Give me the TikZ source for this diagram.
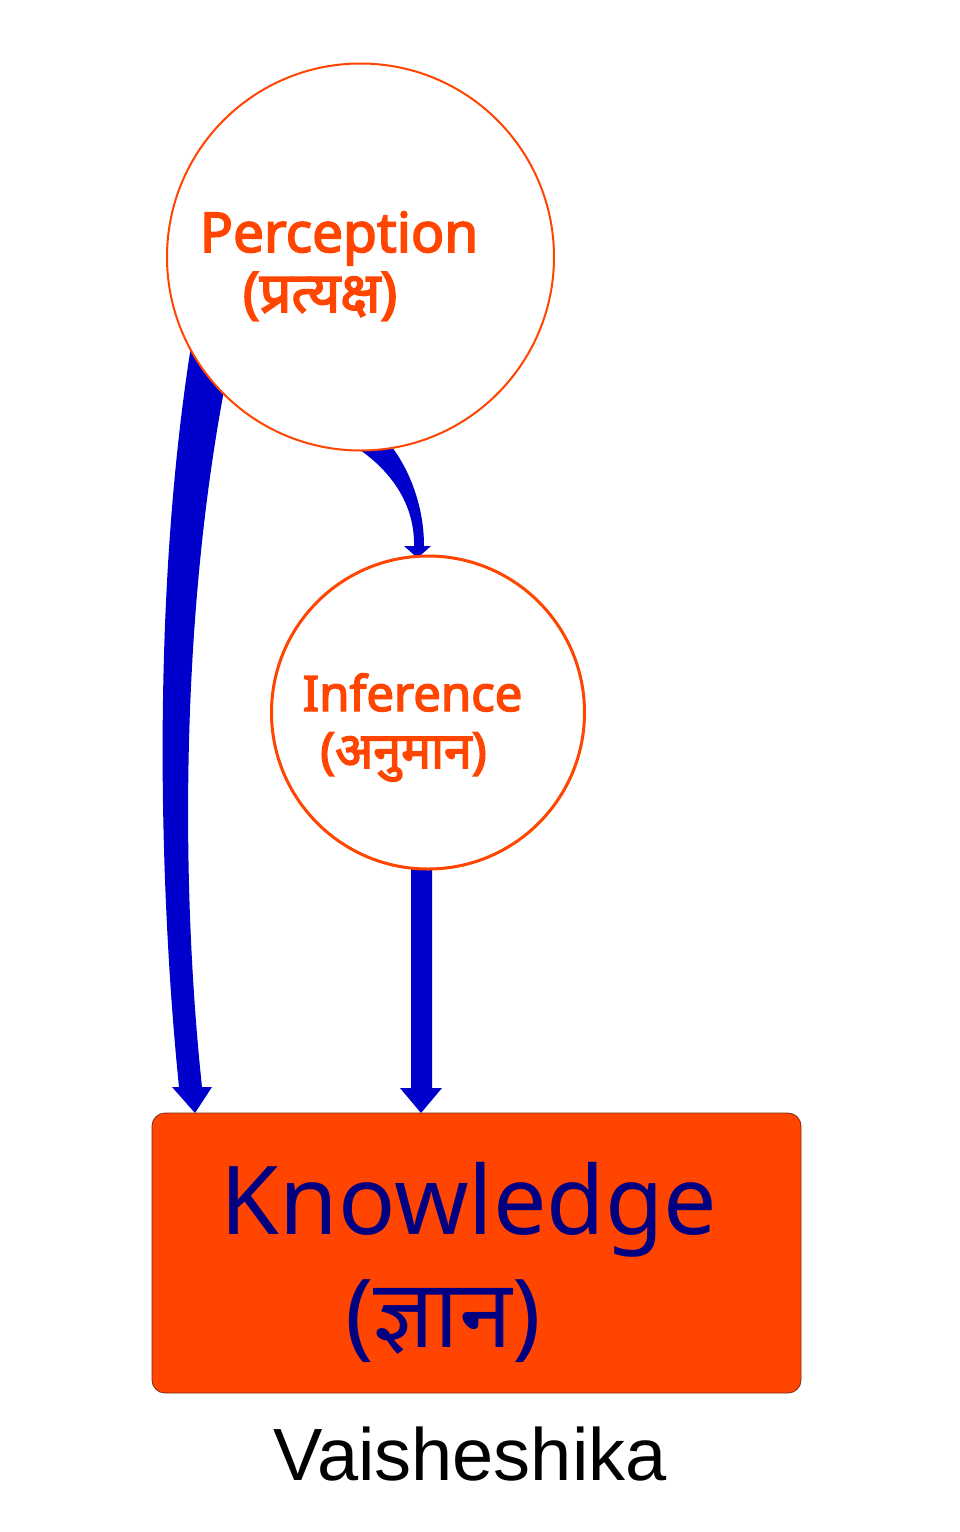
\documentclass[tikz,border=0pt]{standalone}
\usepackage{fontspec}
\setmainfont{Noto Sans}
\newfontfamily\latb[FakeBold=3]{Noto Sans}
\newfontfamily\deva[Script=Devanagari]{Noto Sans}
\newfontfamily\devab[Script=Devanagari,FakeBold=3]{Noto Sans}
\newfontfamily\libsans{Liberation Sans}
\definecolor{ored}{HTML}{FF4500}
\definecolor{boxfill}{HTML}{FF4500}
\definecolor{boxline}{HTML}{7A2A10}
\definecolor{ablue}{HTML}{0000CC}
\definecolor{knavy}{HTML}{000080}
\pgfdeclarelayer{paper}
\pgfdeclarelayer{bg}
\pgfsetlayers{paper,bg,main}
\tikzset{
  ring/.style={circle, draw=ored, fill=white, inner sep=0pt},
  lbl/.style={anchor=base, inner sep=0pt, text=ored},
  arrowfill/.style={fill=ablue},
}
\begin{document}
\begin{tikzpicture}[x=1pt,y=-1pt]
\begin{pgfonlayer}{paper}
\fill[white] (0,0) rectangle (960,1532);
\end{pgfonlayer}
\useasboundingbox (0,0) rectangle (960,1532);

\node[ring, line width=2pt, minimum size=387pt] (P) at (360.5,257) {};
\node[ring, line width=3pt, minimum size=313pt] (I) at (428,712.5) {};
\node[rectangle, rounded corners=13pt, fill=boxfill, draw=boxline, line width=0.8pt,
      minimum width=649pt, minimum height=280pt, inner sep=0pt] (K) at (476.5,1253) {};

\node[lbl, font=\latb\fontsize{55}{60}\selectfont] (Pt) at (339,252) {Perception};
\node[lbl, font=\devab\fontsize{56}{60}\selectfont] (Pd) at (320,312) {(प्रत्यक्ष)};
\node[lbl, font=\latb\fontsize{49}{54}\selectfont] (It) at (412.5,711) {Inference};
\node[lbl, font=\devab\fontsize{50}{54}\selectfont] (Id) at (403.5,768) {(अनुमान)};
\node[lbl, text=knavy, font=\fontsize{95}{100}\selectfont] (Kt) at (469,1234) {Knowledge};
\node[lbl, text=knavy, font=\deva\fontsize{95}{100}\selectfont] (Kd) at (443,1347) {(ज्ञान)};
\node[anchor=base, inner sep=0pt, font=\libsans\fontsize{74}{80}\selectfont] (V) at (470,1480) {Vaisheshika};

\coordinate (tipA) at (195,1113);
\coordinate (tipB) at (421,1113);
\coordinate (tipC) at (417.5,558);

\begin{pgfonlayer}{bg}
% Perception -> Knowledge (tapered, curved)
\fill[arrowfill] (192,340) .. controls (150,600) and (160,900) .. (179,1087)
   -- (172,1087) -- (tipA) -- (212,1087) -- (202,1087)
   .. controls (182,900) and (178,620) .. (228,370) -- cycle;
% Inference -> Knowledge
\fill[arrowfill] (411,855) -- (411,1088) -- (400,1088) -- (tipB) -- (442,1088) -- (432,1088) -- (432,855) -- cycle;
% Perception -> Inference
\fill[arrowfill] (346,441) .. controls (386,464) and (415,500) .. (414,546)
   -- (404,546) -- (tipC) -- (431,546) -- (424,546)
   .. controls (424,500) and (405,460) .. (383,436) -- cycle;
\end{pgfonlayer}
\end{tikzpicture}
\end{document}
